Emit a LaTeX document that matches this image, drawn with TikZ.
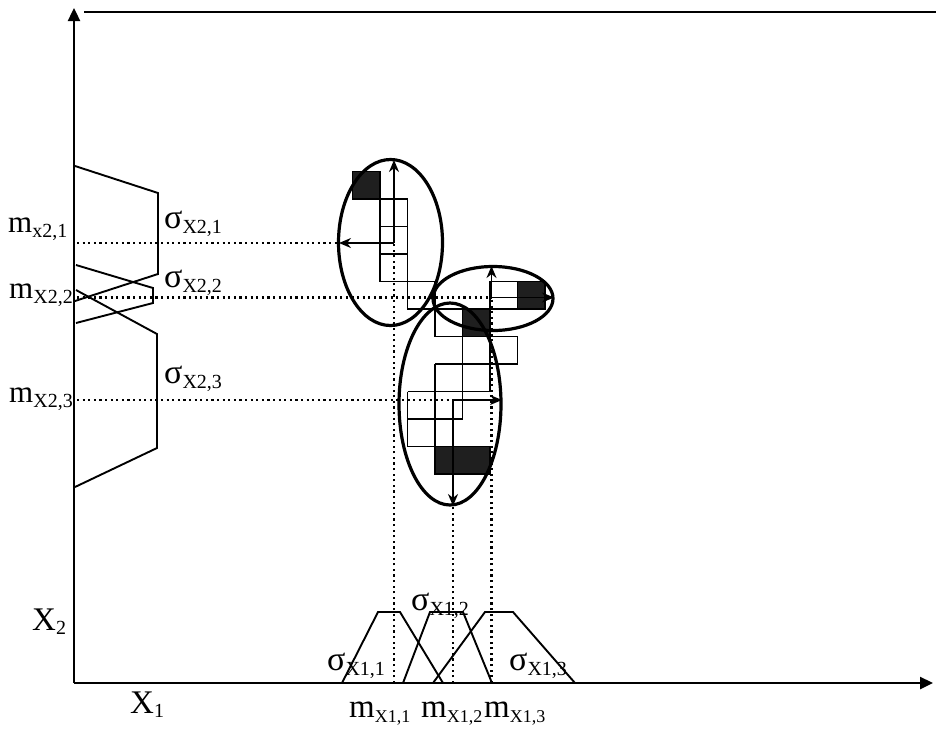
\documentclass[tikz,border=0pt]{standalone}
\usepackage{fontspec}
\setmainfont{Liberation Serif}
\usetikzlibrary{shapes.geometric,arrows.meta}
\newcommand{\Lbl}[4][20]{{\fontsize{#2}{#2}\selectfont #3}\raisebox{-5pt}{\fontsize{#1}{#1}\selectfont #4}}
\begin{document}
\begin{tikzpicture}[x=1pt,y=-1pt,
  axis/.style={line width=2.4pt,-{Triangle[length=13pt,width=12pt]}},
  mf/.style={line width=1.9pt, line join=miter},
  guide/.style={line width=2.3pt, dash pattern=on 2.2pt off 3.4pt},
  cell/.style={line width=1.7pt},
  dark/.style={fill=black!88, draw=black, line width=1.4pt},
  oval/.style={ellipse, draw, line width=3.2pt, inner sep=0pt},
  arr/.style={line width=1.8pt, -{Stealth[length=12pt,width=10pt]}},
  lbl/.style={inner sep=0pt, anchor=base west}]
\useasboundingbox (0,0) rectangle (936,732);

% axes
\coordinate (O) at (74,683);
\coordinate (Yt) at (74,8);
\coordinate (Xt) at (933,683);
\coordinate (T1) at (84,12);
\coordinate (T2) at (936,12);
\draw[axis] (O) -- (Yt);
\draw[axis] (O) -- (Xt);
\draw[line width=2.2pt] (T1) -- (T2);

% left membership functions
\draw[mf] (75,166) -- (158,193) -- (158,274) -- (75,301);
\draw[mf] (76,265) -- (153,288) -- (153,303) -- (76,323);
\draw[mf] (76,290) -- (157,334) -- (157,448) -- (75,487);

% bottom membership functions
\draw[mf] (342,683) -- (378,612) -- (400,612) -- (443,683);
\draw[mf] (403,683) -- (430,612) -- (463,612) -- (492,683);
\draw[mf] (433,683) -- (485,612) -- (513,612) -- (575,683);

% centres and arrow ends
\coordinate (c1) at (394,243);
\coordinate (c1u) at (394,160);
\coordinate (c1l) at (339,243);
\coordinate (c2) at (491.5,297.5);
\coordinate (c2u) at (491.5,266);
\coordinate (c2r) at (554,297.5);
\coordinate (c3) at (453,400);
\coordinate (c3d) at (453,506);
\coordinate (c3r) at (502,400);
\coordinate (h1) at (77,243);
\coordinate (h2) at (77,297.5);
\coordinate (h3) at (77,400);
\coordinate (v1) at (394,683);
\coordinate (v2) at (453,683);
\coordinate (v3) at (491.5,683);

% guide lines
\draw[guide] (h1) -- (c1l);
\draw[guide] (h2) -- (c2);
\draw[guide] (h3) -- (c3);
\draw[guide] (v1) -- (c1);
\draw[guide] (v2) -- (c3d);
\draw[guide] (v3) -- (c2);

% cells
\begin{scope}[shift={(352.5,171.5)},x=27.5pt,y=-27.5pt]
  \filldraw[dark] (0,0) rectangle (1,1);
  \draw[cell] (1,1) rectangle (2,4);
  \draw[cell] (1,2) -- (2,2) (1,3) -- (2,3);
  \draw[cell] (2,4) -- (3,4) (2,4) -- (2,5) -- (3,5) (3,4) -- (3,6) -- (5,6) (3,5) -- (4,5);
  \filldraw[dark] (4,5) rectangle (5,6);
  \draw[cell] (4,5) -- (4,9);
  \draw[cell] (5,6) -- (5,8);
  \draw[cell] (3,7) -- (5,7);
  \draw[cell] (5,6) rectangle (6,7);
  \draw[cell] (3,7) -- (3,10);
  \draw[cell] (2,8) -- (5,8);
  \draw[cell] (2,8) -- (2,10);
  \draw[cell] (2,9) -- (4,9);
  \draw[cell] (2,10) -- (3,10);
  \filldraw[dark] (3,10) rectangle (5,11);
  \draw[cell] (5,4) rectangle (6,5);
  \filldraw[dark] (6,4) rectangle (7,5);
\end{scope}

% ellipses
\node[oval, minimum width=104pt, minimum height=166pt] (e1) at (390.5,242.5) {};
\node[oval, minimum width=120pt, minimum height=64pt] (e2) at (493,298.5) {};
\node[oval, minimum width=102pt, minimum height=202pt] (e3) at (450,404) {};

% arrows
\draw[arr] (c1) -- (c1u);
\draw[arr] (c1) -- (c1l);
\draw[arr] (c2) -- (c2u);
\draw[arr] (c2) -- (c2r);
\draw[arr] (c3) -- (c3d);
\draw[arr] (c3) -- (c3r);

% labels left
\node[lbl] (m21) at (8,232) {\Lbl{31}{m}{x2,1}};
\node[lbl] (m22) at (9,298) {\Lbl{31}{m}{X2,2}};
\node[lbl] (m23) at (9,402) {\Lbl{31}{m}{X2,3}};
\node[lbl] (s21) at (164,228) {\Lbl{34}{σ}{X2,1}};
\node[lbl] (s22) at (164,287) {\Lbl{34}{σ}{X2,2}};
\node[lbl] (s23) at (164,383) {\Lbl{34}{σ}{X2,3}};

% labels bottom
\node[lbl] (s11) at (327,670) {\Lbl{34}{σ}{X1,1}};
\node[lbl] (s12) at (411,610) {\Lbl{34}{σ}{X1,2}};
\node[lbl] (s13) at (509,670) {\Lbl{34}{σ}{X1,3}};
\node[lbl] (m11) at (349,717) {\Lbl[18]{33}{m}{X1,1}};
\node[lbl] (m12) at (421,717) {\Lbl[18]{33}{m}{X1,2}};
\node[lbl] (m13) at (484,717) {\Lbl[18]{33}{m}{X1,3}};

% axis labels
\node[lbl] (X2) at (32,630) {{\fontsize{33}{33}\selectfont X}\raisebox{-4pt}{\fontsize{20}{21}\selectfont 2}};
\node[lbl] (X1) at (130,713) {{\fontsize{33}{33}\selectfont X}\raisebox{-4pt}{\fontsize{20}{21}\selectfont 1}};
\end{tikzpicture}
\end{document}
